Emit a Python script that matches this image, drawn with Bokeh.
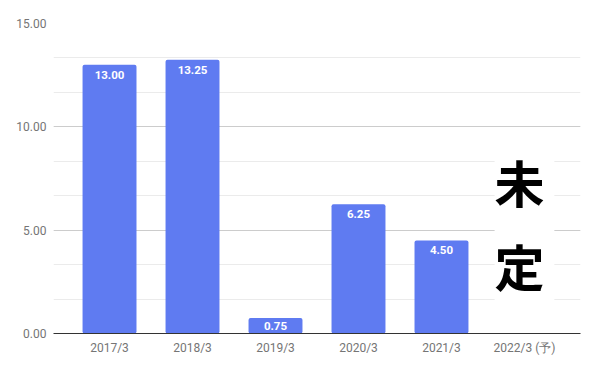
from bokeh.plotting import figure
from bokeh.models import ColumnDataSource, FactorRange, SingleIntervalTicker, LabelSet, NumeralTickFormatter
from bokeh.core.properties import value
from bokeh.embed import file_html
from bokeh.resources import INLINE

# ---- data ----
categories = ["2017/3", "2018/3", "2019/3", "2020/3", "2021/3", "2022/3 (予)"]
bar_categories = ["2017/3", "2018/3", "2019/3", "2020/3", "2021/3"]
dividends = [13.00, 13.25, 0.75, 6.25, 4.50]
dividend_labels = ["13.00", "13.25", "0.75", "6.25", "4.50"]
undecided_category = "2022/3 (予)"
undecided_chars = ["未", "定"]
undecided_levels = [7.4, 3.3]

BAR_COLOR = "#5f7bf1"

label_pos = [max(v - 0.48, v / 2) for v in dividends]
src = ColumnDataSource(dict(x=bar_categories, top=dividends,
                            label=dividend_labels, ly=label_pos))

p = figure(width=595, height=368, output_backend="svg", toolbar_location=None,
           x_range=FactorRange(factors=categories, range_padding=0.175,
                               range_padding_units="absolute"),
           y_range=(0, 15))
p.min_border_left = 53
p.min_border_right = 15
p.min_border_top = 23
p.min_border_bottom = 35
p.outline_line_color = None
p.background_fill_color = "white"
p.border_fill_color = "white"

p.vbar(x="x", top="top", width=0.65, source=src, fill_color=BAR_COLOR,
       line_color=None, border_radius=2)

labels = LabelSet(x="x", y="ly", text="label", source=src, text_color="white",
                  text_font=value("Roboto"), text_font_style="bold",
                  text_font_size="11.5px", text_align="center",
                  text_baseline="middle")
p.add_layout(labels)

# white panel behind the "未定" note
p.rect(x=[undecided_category], y=[4.98], width=0.72, height=7.75,
       fill_color="white", line_color=None)
p.text(x=[undecided_category] * 2, y=undecided_levels, text=undecided_chars,
       text_font=value("Noto Sans CJK JP"), text_font_style="bold",
       text_font_size="50px", text_color="black", text_align="center",
       text_baseline="middle", x_offset=-5)

# axes
p.yaxis.ticker = SingleIntervalTicker(interval=5, num_minor_ticks=3)
p.yaxis.formatter = NumeralTickFormatter(format="0.00")
p.yaxis.axis_line_color = None
p.yaxis.major_tick_line_color = None
p.yaxis.minor_tick_line_color = None
p.yaxis.major_tick_out = 0
p.yaxis.minor_tick_out = 0
p.yaxis.major_label_text_font = "Roboto"
p.yaxis.major_label_text_font_size = "12px"
p.yaxis.major_label_text_color = "#757575"
p.yaxis.major_label_standoff = 7

p.xaxis.axis_line_color = "#333333"
p.xaxis.axis_line_width = 1
p.xaxis.major_tick_line_color = None
p.xaxis.minor_tick_line_color = None
p.xaxis.major_tick_out = 0
p.xaxis.minor_tick_out = 0
p.xaxis.major_label_text_font = "Roboto"
p.xaxis.major_label_text_font_size = "12px"
p.xaxis.major_label_text_color = "#757575"
p.xaxis.major_label_standoff = 7

p.xgrid.grid_line_color = None
p.ygrid.grid_line_color = "#cccccc"
p.ygrid.minor_grid_line_color = "#ebebeb"

open("out.html", "w").write(file_html(p, INLINE))
